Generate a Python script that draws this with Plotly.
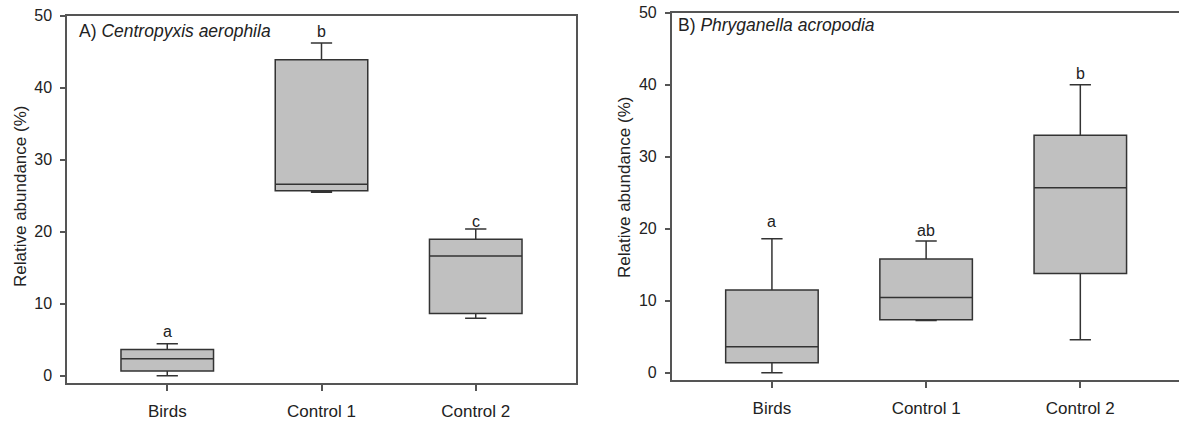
import plotly.graph_objects as go

# Sampling sites
categories = ["Birds", "Control 1", "Control 2"]

# A) Centropyxis aerophila, relative abundance (%)
a_lower = [0.0, 25.5, 8.0]
a_q1 = [0.65, 25.7, 8.65]
a_median = [2.36, 26.6, 16.65]
a_q3 = [3.65, 43.9, 18.95]
a_upper = [4.45, 46.2, 20.4]
a_letters = ["a", "b", "c"]

# B) Phryganella acropodia, relative abundance (%)
b_lower = [0.0, 7.25, 4.6]
b_q1 = [1.4, 7.35, 13.8]
b_median = [3.6, 10.45, 25.7]
b_q3 = [11.5, 15.8, 33.0]
b_upper = [18.6, 18.3, 40.0]
b_letters = ["a", "ab", "b"]

y_ticks = [0, 10, 20, 30, 40, 50]

W, H = 1179, 428
FONT = "Liberation Sans, Arial, sans-serif"
TXT = "#222222"
AXIS = "#555555"
BOX_LINE = "#333333"
BOX_FILL = "#c0c0c0"

fig = go.Figure()


def add_panel(xa, ya, lower, q1, med, q3, upper):
    fig.add_trace(go.Box(
        x=categories, q1=q1, median=med, q3=q3,
        lowerfence=lower, upperfence=upper,
        width=0.6, whiskerwidth=0.23, boxpoints=False,
        fillcolor=BOX_FILL, line=dict(color=BOX_LINE, width=1.5),
        xaxis=xa, yaxis=ya, showlegend=False, hoverinfo="skip",
    ))


add_panel("x", "y", a_lower, a_q1, a_median, a_q3, a_upper)
add_panel("x2", "y2", b_lower, b_q1, b_median, b_q3, b_upper)

xcommon = dict(
    type="category", showline=True, linecolor=AXIS, linewidth=1.5,
    ticks="outside", ticklen=6, tickcolor=AXIS, tickwidth=1.5,
    showgrid=False, zeroline=False, ticklabelstandoff=6, automargin=False,
    tickfont=dict(family=FONT, size=17, color=TXT),
)
ycommon = dict(
    range=[-1, 50], tickvals=y_ticks, showline=True, linecolor=AXIS,
    linewidth=1.5, ticks="outside", ticklen=5, tickcolor=AXIS, tickwidth=1.5,
    showgrid=False, zeroline=False, ticklabelstandoff=5, automargin=False,
    tickfont=dict(family=FONT, size=16, color=TXT),
)

fig.update_layout(
    template="none",
    width=W, height=H, margin=dict(l=0, r=0, t=0, b=0, pad=0),
    paper_bgcolor="white", plot_bgcolor="white",
    xaxis=dict(domain=[67 / W, 576 / W], range=[-0.65, 2.65], anchor="y",
               mirror=True, **xcommon),
    yaxis=dict(domain=[45 / H, 412.3 / H], anchor="x", mirror=True, **ycommon),
    xaxis2=dict(domain=[671.7 / W, 1.0], range=[-0.65, 2.64], anchor="y2",
                mirror=True, **xcommon),
    yaxis2=dict(domain=[48 / H, 415.3 / H], anchor="x2", mirror=False, **ycommon),
)

# Significance letters above the upper whiskers
a_shift = [12, 12, 7]
b_shift = [17, 11, 11]
for xr, yr, ups, letters, shifts in [("x", "y", a_upper, a_letters, a_shift),
                                     ("x2", "y2", b_upper, b_letters, b_shift)]:
    for cat, up, lab, sh in zip(categories, ups, letters, shifts):
        fig.add_annotation(x=cat, y=up, xref=xr, yref=yr, text=lab,
                           showarrow=False, yanchor="middle", yshift=sh,
                           font=dict(family=FONT, size=16, color=TXT))

# Panel titles
fig.add_annotation(x=77 / W, y=1 - 31 / H, xref="paper", yref="paper",
                   text="A) <i>Centropyxis aerophila</i>", showarrow=False,
                   xanchor="left", yanchor="middle",
                   font=dict(family=FONT, size=17.5, color=TXT))
fig.add_annotation(x=676 / W, y=1 - 25 / H, xref="paper", yref="paper",
                   text="B) <i>Phryganella acropodia</i>", showarrow=False,
                   xanchor="left", yanchor="middle",
                   font=dict(family=FONT, size=17.5, color=TXT))

# Y-axis titles
for xc, yc in [(20, 197), (625, 188)]:
    fig.add_annotation(x=xc / W, y=1 - yc / H, xref="paper", yref="paper",
                       text="Relative abundance (%)", showarrow=False,
                       textangle=-90, xanchor="center", yanchor="middle",
                       font=dict(family=FONT, size=17, color=TXT))

fig.write_html("out.html")
